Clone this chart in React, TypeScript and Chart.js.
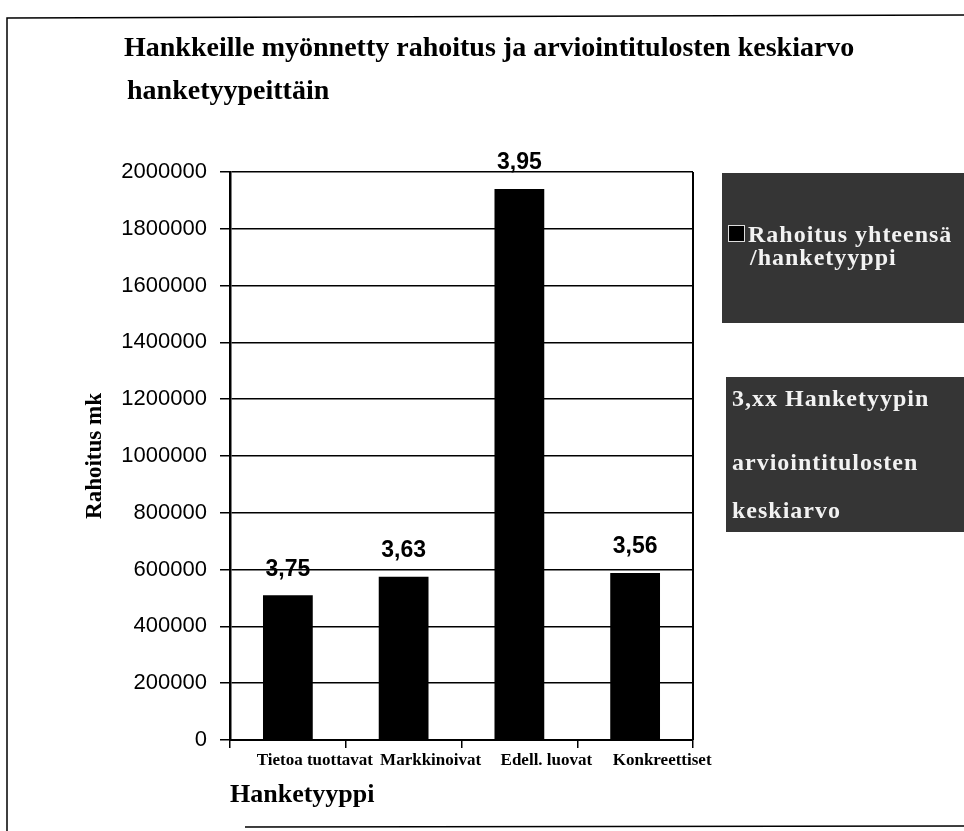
import { useEffect, useRef } from "react";
import { Chart, registerables } from "chart.js";

Chart.register(...registerables);

const categories = ["Tietoa tuottavat", "Markkinoivat", "Edell. luovat", "Konkreettiset"];
const funding = [510000, 575000, 1940000, 588000];
const ratings = [3.75, 3.63, 3.95, 3.56];
const yTicksMax = 2000000;
const yTickStep = 200000;
const titleLines = ["Hankkeille myönnetty rahoitus ja arviointitulosten keskiarvo", "hanketyypeittäin"];
const legendFunding = ["Rahoitus yhteensä", "/hanketyyppi"];
const legendRating = ["3,xx Hanketyypin", "arviointitulosten", "keskiarvo"];
const yTitle = "Rahoitus mk";
const xTitle = "Hanketyyppi";

const SERIF = '"Liberation Serif", "Times New Roman", serif';
const SANS = '"Liberation Sans", Arial, sans-serif';

const decor = {
  id: "decor",
  beforeDraw(chart: any) {
    const ctx = chart.ctx as CanvasRenderingContext2D;
    ctx.save();
    ctx.fillStyle = "#fff";
    ctx.fillRect(0, 0, chart.width, chart.height);
    // frame
    ctx.strokeStyle = "#000";
    ctx.lineWidth = 1.5;
    ctx.beginPath();
    ctx.moveTo(7, 831);
    ctx.lineTo(7, 18);
    ctx.lineTo(964, 15);
    ctx.stroke();
    ctx.beginPath();
    ctx.moveTo(245, 827);
    ctx.lineTo(964, 826);
    ctx.stroke();
    // title
    ctx.fillStyle = "#000";
    ctx.font = `bold 28px ${SERIF}`;
    ctx.textAlign = "left";
    ctx.textBaseline = "alphabetic";
    ctx.fillText(titleLines[0], 124, 56);
    ctx.fillText(titleLines[1], 127, 99);
    // legend boxes
    ctx.fillStyle = "#353535";
    ctx.fillRect(722, 173, 242, 150);
    ctx.fillRect(726, 377, 238, 155);
    // legend marker
    ctx.fillStyle = "#000";
    ctx.fillRect(728, 225, 17, 17);
    ctx.strokeStyle = "#ddd";
    ctx.lineWidth = 1;
    ctx.strokeRect(728.5, 225.5, 16, 16);
    ctx.fillStyle = "#f2f2f2";
    ctx.font = `bold 24px ${SERIF}`;
    (ctx as any).letterSpacing = "1px";
    ctx.fillText(legendFunding[0], 748, 242);
    ctx.fillText(legendFunding[1], 750, 265);
    ctx.fillText(legendRating[0], 732, 406);
    ctx.fillText(legendRating[1], 732, 470);
    ctx.fillText(legendRating[2], 732, 518);
    (ctx as any).letterSpacing = "0px";
    ctx.restore();
  },
  afterDatasetsDraw(chart: any) {
    const ctx = chart.ctx as CanvasRenderingContext2D;
    ctx.save();
    const { right, top, bottom } = chart.chartArea;
    ctx.strokeStyle = "#000";
    ctx.lineWidth = 2;
    ctx.beginPath();
    ctx.moveTo(right, top);
    ctx.lineTo(right, bottom);
    ctx.stroke();
    const meta = chart.getDatasetMeta(0);
    ctx.fillStyle = "#000";
    ctx.font = `bold 23px ${SANS}`;
    ctx.textAlign = "center";
    ctx.textBaseline = "middle";
    meta.data.forEach((bar: any, i: number) => {
      ctx.fillText(ratings[i].toFixed(2).replace(".", ","), bar.x, bar.y - 26);
    });
    ctx.restore();
  },
};

export default function App() {
  const ref = useRef<HTMLCanvasElement>(null);
  useEffect(() => {
    if (!ref.current) return;
    const chart = new Chart(ref.current, {
      type: "bar",
      data: {
        labels: categories,
        datasets: [
          {
            label: legendFunding.join(" "),
            data: funding,
            backgroundColor: "#000",
            borderWidth: 0,
            barPercentage: 0.43,
            categoryPercentage: 1,
          },
        ],
      },
      plugins: [decor],
      options: {
        animation: false,
        responsive: true,
        maintainAspectRatio: false,
        layout: { padding: { top: 172, right: 271, bottom: 0, left: 0 } },
        plugins: {
          legend: { display: false },
          title: { display: false },
          tooltip: { enabled: false },
        },
        scales: {
          x: {
            afterFit: (s: any) => {
              s.height = 91;
            },
            grid: {
              display: true,
              drawOnChartArea: false,
              drawTicks: true,
              tickLength: 8,
              color: "#000",
              lineWidth: 1.5,
            },
            border: { display: true, color: "#000", width: 2 },
            ticks: {
              color: "#000",
              font: { family: SERIF, size: 17, weight: "bold" },
              padding: 2,
              maxRotation: 0,
              autoSkip: false,
              labelOffset: 27,
            },
            title: {
              display: true,
              text: xTitle,
              align: "start",
              color: "#000",
              font: { family: SERIF, size: 26, weight: "bold" },
              padding: { top: 0, bottom: 20 },
            },
          },
          y: {
            min: 0,
            max: yTicksMax,
            afterFit: (s: any) => {
              s.width = 230;
            },
            grid: { color: "#000", lineWidth: 1.5, tickLength: 10, drawTicks: true },
            border: { display: true, color: "#000", width: 2.5 },
            ticks: {
              stepSize: yTickStep,
              color: "#000",
              font: { family: SANS, size: 22 },
              padding: 13,
              callback: (v: any) => String(v),
            },
            title: {
              display: true,
              text: yTitle,
              color: "#000",
              font: { family: SERIF, size: 23, weight: "bold" },
              padding: { top: 81, bottom: 0 },
            },
          },
        },
      } as any,
    });
    return () => chart.destroy();
  }, []);
  return (
    <div style={{ position: "fixed", left: 0, top: 0, width: 964, height: 831 }}>
      <canvas ref={ref} />
    </div>
  );
}
